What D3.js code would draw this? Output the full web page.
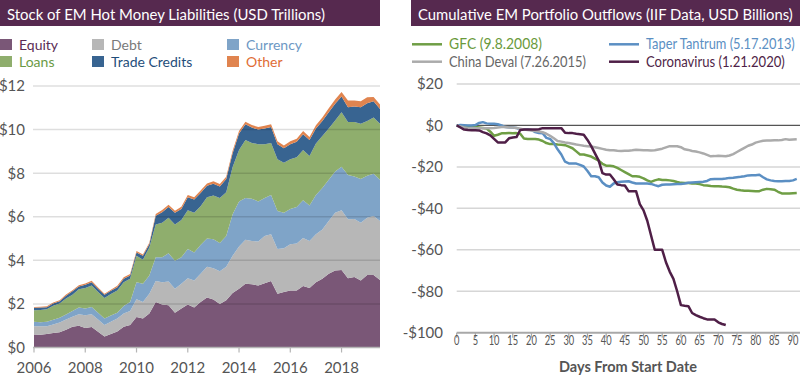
<!DOCTYPE html>
<html>
<head>
<meta charset="utf-8">
<script src="https://cdn.jsdelivr.net/npm/d3@7"></script>
<style>
  body { margin: 0; background: #fff; }
  svg { display: block; font-family: Lato, "Open Sans", sans-serif; }
</style>
</head>
<body>
<svg id="chart" width="800" height="375"></svg>
<script>
// ---- left panel: stock of EM hot money liabilities (USD trillions), quarterly ----
const quarters = [2006, 2006.25, 2006.5, 2006.75, 2007, 2007.25, 2007.5, 2007.75, 2008, 2008.25, 2008.5, 2008.75,
  2009, 2009.25, 2009.5, 2009.75, 2010, 2010.25, 2010.5, 2010.75, 2011, 2011.25, 2011.5, 2011.75,
  2012, 2012.25, 2012.5, 2012.75, 2013, 2013.25, 2013.5, 2013.75, 2014, 2014.25, 2014.5, 2014.75,
  2015, 2015.25, 2015.5, 2015.75, 2016, 2016.25, 2016.5, 2016.75, 2017, 2017.25, 2017.5, 2017.75,
  2018, 2018.25, 2018.5, 2018.75, 2019, 2019.25, 2019.5];
const layerNames = ["Equity", "Debt", "Currency", "Loans", "Trade Credits", "Other"];
const equity = [.60, .58, .62, .66, .70, .82, .95, 1.00, .90, .94, .72, .50, .62, .73, .95, 1.03, 1.40, 1.33, 1.56, 2.09,
  1.97, 1.94, 1.60, 1.79, 1.97, 1.83, 2.09, 2.29, 2.20, 2.00, 2.17, 2.50, 2.70, 2.92, 2.90, 2.85, 2.95, 3.05, 2.47, 2.55,
  2.62, 2.62, 2.82, 2.73, 3.00, 3.15, 3.38, 3.53, 3.56, 3.18, 3.23, 3.08, 3.33, 3.33, 3.10];
const debt = [.38, .39, .36, .40, .45, .46, .46, .53, .58, .59, .56, .53, .56, .60, .61, .64, .81, .76, .91, .96,
  1.03, 1.09, 1.10, 1.13, 1.21, 1.25, 1.29, 1.42, 1.44, 1.50, 1.54, 1.71, 1.94, 2.02, 1.99, 2.01, 2.17, 2.15, 2.05, 2.00,
  2.12, 2.15, 2.20, 2.16, 2.20, 2.27, 2.42, 2.65, 2.74, 2.70, 2.67, 2.65, 2.62, 2.70, 2.70];
const currency = [.20, .19, .20, .21, .21, .24, .26, .30, .31, .33, .32, .30, .29, .27, .35, .42, .79, .83, .83, 1.09,
  1.14, 1.29, 1.28, 1.22, 1.34, 1.28, 1.32, 1.29, 1.33, 1.29, 1.41, 1.90, 2.06, 1.92, 1.94, 1.84, 1.74, 1.80, 1.74, 1.63,
  1.62, 1.68, 1.74, 1.63, 1.80, 1.90, 1.90, 1.90, 2.00, 2.04, 1.95, 2.00, 1.93, 1.94, 1.90];
const loans = [.53, .56, .58, .65, .66, .73, .75, .84, .94, .99, .95, .94, .98, 1.02, 1.09, 1.06, 1.21, 1.11, 1.29, 1.51,
  1.59, 1.63, 1.67, 1.71, 1.78, 1.82, 1.78, 1.90, 2.00, 2.07, 2.00, 2.17, 2.36, 2.66, 2.56, 2.63, 2.47, 2.39, 2.38, 2.30,
  2.28, 2.28, 2.30, 2.27, 2.36, 2.38, 2.35, 2.34, 2.50, 2.43, 2.50, 2.54, 2.51, 2.58, 2.57];
const tradeCredits = [.11, .11, .09, .10, .10, .13, .16, .13, .15, .15, .15, .15, .15, .15, .15, .15, .15, .18, .15, .40,
  .48, .50, .53, .51, .60, .61, .61, .52, .55, .53, .61, .63, .76, .72, .70, .67, .72, .73, .69, .66,
  .69, .71, .73, .73, .69, .69, .75, .76, .72, .68, .71, .76, .82, .75, .68];
const other = [.04, .04, .04, .05, .05, .05, .05, .06, .06, .06, .05, .05, .05, .06, .07, .07, .07, .06, .07, .08,
  .10, .10, .10, .10, .10, .10, .11, .11, .11, .11, .11, .12, .12, .12, .12, .12, .13, .13, .13, .13,
  .14, .14, .14, .14, .15, .16, .18, .20, .20, .30, .27, .27, .27, .20, .20];
const stockTicks = [0, 2, 4, 6, 8, 10, 12];
const yearTicks = [2006, 2008, 2010, 2012, 2014, 2016, 2018];

// ---- right panel: cumulative EM portfolio outflows (USD billions), by day ----
const days = d3.range(0, 92);
const gfc = [0, -0.3, -0.5, -0.5, -0.8, -0.8, -1.0, -1.2, -1.5, -3.0, -5.0, -4.5, -3.8, -3.8, -3.6, -3.8, -3.7, -4.0, -6.3, -6.5,
  -6.5, -6.5, -6.8, -7.5, -8.5, -9.0, -9.0, -9.2, -9.3, -9.5, -10.2, -11.0, -12.5, -14.0, -14.0, -14.5, -15.0, -16.0, -17.0, -18.5,
  -19.4, -19.5, -19.7, -20.5, -21.5, -22.5, -23.5, -24.5, -24.5, -24.8, -25.5, -26.5, -27.2, -26.5, -26.0, -26.3, -26.3, -26.5, -26.8, -27.3,
  -27.7, -27.8, -27.8, -28.0, -28.0, -28.3, -28.8, -29.0, -29.2, -29.3, -29.3, -29.5, -29.6, -29.8, -30.5, -31.0, -31.3, -31.5, -31.5, -31.6,
  -31.7, -31.7, -31.0, -30.6, -30.8, -31.0, -32.0, -32.8, -32.8, -32.8, -32.7, -32.6];
const taper = [0, 0.2, 0.1, 0, 0, 0.2, 1.2, 1.6, 1.0, 0.8, 0.8, 0.6, 0, -0.8, -0.9, -1.0, -1.2, -2.0, -2.0, -2.0,
  -2.2, -3.2, -3.7, -3.8, -6.0, -6.5, -8.5, -11.5, -14.0, -17.5, -18.3, -18.3, -18.4, -19.0, -19.8, -22.0, -24.5, -24.5, -25.0, -27.5,
  -29.0, -29.6, -28.0, -27.4, -27.2, -27.0, -26.9, -27.5, -28.0, -28.0, -28.0, -28.0, -28.2, -28.8, -29.3, -28.6, -28.5, -28.5, -28.4, -28.3,
  -28.2, -28.0, -27.7, -27.5, -27.4, -27.3, -27.2, -26.8, -25.9, -25.8, -25.8, -25.8, -25.6, -25.3, -25.2, -25.0, -24.8, -24.5, -24.1, -24.0,
  -24.0, -23.8, -25.0, -26.0, -26.5, -26.8, -26.9, -26.9, -26.8, -26.8, -26.5, -25.8];
const china = [0, -0.5, -1.0, -1.3, -1.3, -1.3, -1.3, -1.3, -1.3, -1.3, -1.2, -1.0, -0.8, -0.8, -1.0, -1.0, -1.2, -1.6, -2.0, -2.2,
  -2.4, -2.7, -2.9, -3.3, -4.0, -5.0, -6.2, -7.5, -7.8, -8.2, -8.5, -8.8, -9.2, -9.5, -9.8, -10.0, -10.2, -10.5, -10.9, -11.3,
  -11.7, -12.0, -12.0, -12.2, -12.3, -12.2, -12.2, -12.0, -11.7, -11.8, -12.0, -12.0, -12.1, -12.0, -11.6, -11.2, -10.6, -10.0, -10.0, -10.0,
  -10.5, -11.5, -11.8, -12.3, -12.6, -13.0, -13.5, -14.2, -14.9, -14.8, -14.6, -14.7, -14.9, -14.5, -13.8, -12.8, -11.8, -10.8, -9.8, -9.2,
  -8.3, -7.8, -7.4, -7.3, -7.3, -7.2, -7.2, -7.0, -6.6, -6.9, -6.8, -6.7];
const corona = [0, -1.0, -2.0, -2.2, -2.3, -2.3, -2.4, -3.2, -3.8, -4.8, -6.5, -8.2, -8.2, -8.2, -6.2, -5.8, -5.6, -2.2, -2.0, -2.0,
  -2.0, -2.0, -1.8, -1.3, -1.3, -1.3, -1.3, -1.3, -1.3, -3.5, -3.7, -3.7, -4.0, -4.2, -4.5, -7.0, -10.0, -13.5, -17.0, -23.0,
  -23.7, -23.7, -26.0, -28.5, -28.8, -29.0, -31.7, -31.7, -31.7, -38.0, -41.0, -46.0, -53.0, -60.0, -60.0, -60.0, -66.0, -70.5, -74.0, -80.0,
  -86.7, -87.0, -87.2, -90.5, -91.5, -92.3, -93.0, -93.6, -93.6, -93.6, -95.0, -95.8, -96.3];
const lineNames = ["GFC (9.8.2008)", "Taper Tantrum (5.17.2013)", "China Deval (7.26.2015)", "Coronavirus (1.21.2020)"];
const flowTicks = [20, 0, -20, -40, -60, -80, -100];
const dayTicks = [0, 5, 10, 15, 20, 25, 30, 35, 40, 45, 50, 55, 60, 65, 70, 75, 80, 85, 90];

const layerColors = ["#7a5777", "#b7b7b7", "#7fa4c8", "#8fae6d", "#386491", "#e0844f"];
const layerText = ["#5b2c55", "#7a7a7a", "#6d98c4", "#6a9a45", "#1f4e7b", "#e06c35"];
const lineColors = ["#6f9e45", "#5b8fc3", "#ababab", "#4f1f47"];
const lineText = ["#6a9a3c", "#5b8fc3", "#666666", "#4f1f47"];
const lineLabelWidth = [93, 149, 137, 139];
const titleBg = "#56294f";
const axisText = "#555";

const svg = d3.select("#chart");

// squeeze a text horizontally to a given width (the original face is condensed)
function fitWidth(sel, width) {
  sel.each(function (d, i) {
    const t = d3.select(this);
    const w = typeof width === "function" ? width(d, i) : width;
    const x = +t.attr("x") || 0, y = +t.attr("y") || 0;
    const s = Math.min(1, w / this.getComputedTextLength());
    t.attr("x", 0).attr("y", 0).attr("transform", `translate(${x},${y}) scale(${s},1)`);
  });
}

// ================= left panel =================
svg.append("rect").attr("x", 0).attr("y", 0).attr("width", 380).attr("height", 26).attr("fill", titleBg);
svg.append("text").attr("x", 7).attr("y", 19.5).attr("fill", "#fff").attr("font-size", 16)
  .text("Stock of EM Hot Money Liabilities (USD Trillions)")
  .call(fitWidth, 318);

const table = quarters.map((q, i) => ({
  q: q, "Equity": equity[i], "Debt": debt[i], "Currency": currency[i],
  "Loans": loans[i], "Trade Credits": tradeCredits[i], "Other": other[i]
}));
const stacked = d3.stack().keys(layerNames)(table);

const xL = d3.scaleLinear().domain([2006, 2019.5]).range([34, 380]);
const yL = d3.scaleLinear().domain([0, 12]).range([347.5, 86]);

const area = d3.area()
  .x(d => xL(d.data.q))
  .y0(d => yL(d[0]))
  .y1(d => yL(d[1]));

svg.append("g").selectAll("path").data(stacked).join("path")
  .attr("fill", (d, i) => layerColors[i])
  .attr("d", area);

// gridlines sit on top of the areas, faint
svg.append("g").selectAll("line").data(stockTicks.filter(d => d > 0)).join("line")
  .attr("x1", 33).attr("x2", 380)
  .attr("y1", d => yL(d)).attr("y2", d => yL(d))
  .attr("stroke", "rgba(0,0,0,0.13)").attr("stroke-width", 1.5);

svg.append("line").attr("x1", 33).attr("x2", 380).attr("y1", yL(0)).attr("y2", yL(0))
  .attr("stroke", "#b5b5b5").attr("stroke-width", 1.5);
svg.append("g").selectAll("line").data(yearTicks).join("line")
  .attr("x1", d => xL(d)).attr("x2", d => xL(d))
  .attr("y1", yL(0)).attr("y2", yL(0) + 5)
  .attr("stroke", "#b5b5b5").attr("stroke-width", 1.2);

svg.append("g").selectAll("text").data(stockTicks).join("text")
  .attr("x", 25).attr("y", d => yL(d)).attr("dy", "0.36em")
  .attr("text-anchor", "end").attr("font-size", 15).attr("fill", axisText)
  .text(d => "$" + d);
svg.append("g").selectAll("text").data(yearTicks).join("text")
  .attr("x", d => xL(d)).attr("y", 373)
  .attr("text-anchor", "middle").attr("font-size", 15).attr("fill", axisText)
  .text(d => d);

// legend
const legL = svg.append("g").selectAll("g").data(layerNames).join("g")
  .attr("transform", (d, i) => `translate(${[0, 92, 227][i % 3]},${i < 3 ? 39 : 56})`);
legL.append("rect").attr("width", 12).attr("height", 11).attr("fill", (d, i) => layerColors[i]);
legL.append("text").attr("x", 19).attr("y", 11).attr("font-size", 14)
  .attr("fill", (d, i) => layerText[i]).text(d => d);

// ================= right panel =================
svg.append("rect").attr("x", 411).attr("y", 0).attr("width", 389).attr("height", 26).attr("fill", titleBg);
svg.append("text").attr("x", 418).attr("y", 19.5).attr("fill", "#fff").attr("font-size", 16)
  .text("Cumulative EM Portfolio Outflows (IIF Data, USD Billions)")
  .call(fitWidth, 375);

const xR = d3.scaleLinear().domain([0, 90]).range([456.7, 793]);
const yR = d3.scaleLinear().domain([-100, 20]).range([332.7, 84]);

svg.append("g").selectAll("line").data(flowTicks.filter(d => d !== 0 && d !== -100)).join("line")
  .attr("x1", 456.7).attr("x2", 800)
  .attr("y1", d => yR(d)).attr("y2", d => yR(d))
  .attr("stroke", "#d6d6d6").attr("stroke-width", 1.5);
svg.append("line").attr("x1", 456.7).attr("x2", 800).attr("y1", yR(0)).attr("y2", yR(0))
  .attr("stroke", "#555").attr("stroke-width", 1.2);
svg.append("line").attr("x1", 456.7).attr("x2", 800).attr("y1", yR(-100)).attr("y2", yR(-100))
  .attr("stroke", "#a8a8a8").attr("stroke-width", 2);
svg.append("g").selectAll("line").data(dayTicks).join("line")
  .attr("x1", d => xR(d)).attr("x2", d => xR(d))
  .attr("y1", yR(-100)).attr("y2", yR(-100) + 5)
  .attr("stroke", "#a8a8a8").attr("stroke-width", 1.2);

svg.append("g").selectAll("text").data(flowTicks).join("text")
  .attr("x", 443).attr("y", d => yR(d)).attr("dy", "0.36em")
  .attr("text-anchor", "end").attr("font-size", 15).attr("fill", axisText)
  .text(d => (d < 0 ? "-$" : "$") + Math.abs(d));
svg.append("g").selectAll("text").data(dayTicks).join("text")
  .attr("x", d => xR(d)).attr("y", 345)
  .attr("text-anchor", "middle").attr("font-size", 13)
  .attr("fill", axisText).text(d => d)
  .call(fitWidth, d => String(d).length * 5.4);
svg.append("text").attr("x", 628).attr("y", 372).attr("text-anchor", "middle")
  .attr("font-size", 14.5).attr("font-weight", "bold").attr("fill", axisText)
  .text("Days From Start Date");

const flows = [gfc, taper, china, corona];
const line = d3.line().x((d, i) => xR(days[i])).y(d => yR(d));
svg.append("g").selectAll("path").data(flows).join("path")
  .attr("fill", "none").attr("stroke", (d, i) => lineColors[i])
  .attr("stroke-width", 2.5).attr("stroke-linejoin", "round")
  .attr("d", line);

const legR = svg.append("g").selectAll("g").data(lineNames).join("g")
  .attr("transform", (d, i) => `translate(${i % 2 === 0 ? 412 : 609},${i < 2 ? 44.3 : 61.7})`);
legR.append("line").attr("x1", 0).attr("x2", 30)
  .attr("stroke", (d, i) => lineColors[i]).attr("stroke-width", 2.5);
legR.append("text").attr("x", 37).attr("y", 5).attr("font-size", 14.5)
  .attr("fill", (d, i) => lineText[i]).text(d => d)
  .call(fitWidth, (d, i) => lineLabelWidth[i]);
</script>
</body>
</html>
